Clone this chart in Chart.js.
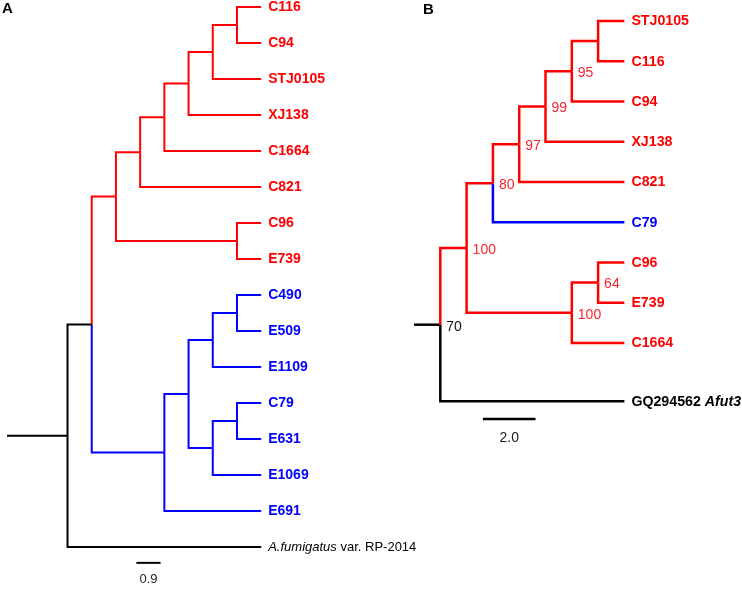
<!DOCTYPE html>
<html><head><meta charset="utf-8">
<script src="https://cdn.jsdelivr.net/npm/chart.js@4.4.1/dist/chart.umd.min.js"></script>
<style>
html,body{margin:0;padding:0;background:#fff;}
#wrap{position:relative;width:742px;height:590px;overflow:hidden;}
canvas{position:absolute;top:0;}
#cA{left:0;} #cB{left:370px;}
</style></head>
<body><div id="wrap"><canvas id="cA" width="742" height="590"></canvas><canvas id="cB" width="372" height="590"></canvas></div>
<script>
const RED = '#ff0000', BLUE = '#0000ff', BLACK = '#000000';
const FONT = '"Liberation Sans", Arial, Helvetica, sans-serif';

// ---------- Panel A (cladogram) ----------
const nodeIdA     = ['root','n1','r1','r2','r3','r4','r5','r6','r7','b1','b2','b3','b4','b5','b6'];
const nodeParentA = [null,'root','n1','r1','r2','r3','r4','r5','r1','n1','b1','b2','b3','b2','b5'];
const nodeDepthA  = [2.25,3.15,4.05,4.95,5.85,6.75,7.65,8.55,8.55,5.85,6.75,7.65,8.55,7.65,8.55];
const nodeGroupA  = ['out','out','I','I','I','I','I','I','I','II','II','II','II','II','II'];
const leafNameA   = ['C116','C94','STJ0105','XJ138','C1664','C821','C96','E739','C490','E509','E1109','C79','E631','E1069','E691','_A.fumigatus_ var. RP-2014'];
const leafParentA = ['r6','r6','r5','r4','r3','r2','r7','r7','b4','b4','b3','b6','b6','b5','b1','root'];
const leafDepthA  = [9.45,9.45,9.45,9.45,9.45,9.45,9.45,9.45,9.45,9.45,9.45,9.45,9.45,9.45,9.45,9.45];
const leafRowA    = [0,1,2,3,4,5,6,7,8,9,10,11,12,13,14,15];
const leafGroupA  = ['I','I','I','I','I','I','I','I','II','II','II','II','II','II','II','out'];
const scaleBarA   = {start:4.81, length:0.9, row:15.44, labelRow:15.9, label:'0.9'};

// ---------- Panel B (with bootstrap support) ----------
const nodeIdB      = ['n70','n100a','n80','n97','n99','n95','nSC','n100b','n64'];
const nodeParentB  = [null,'n70','n100a','n80','n97','n99','n95','n100a','n100b'];
const nodeDepthB   = [1,2,3,4,5,6,7,6,7];
const nodeGroupB   = ['out','I','I','I','I','I','I','I','I'];
const nodeSupportB = ['70','100','80','97','99','95','','100','64'];
const leafNameB    = ['STJ0105','C116','C94','XJ138','C821','C79','C96','E739','C1664','GQ294562 _Afut3_'];
const leafParentB  = ['nSC','nSC','n95','n99','n97','n80','n64','n64','n100b','n70'];
const leafDepthB   = [8,8,8,8,8,8,8,8,8,8];
const leafRowB     = [0,1,2,3,4,5,6,7,8,9.45];
const leafGroupB   = ['I','I','I','I','I','II','I','I','I','out'];
const scaleBarB    = {start:2.62, length:2.0, row:9.89, labelRow:10.36, label:'2.0'};

const GROUP_COLOR = {I:RED, II:BLUE, out:BLACK};

function layoutTree(t){
  const nodes = {};
  t.nodeId.forEach((id,i)=>{ nodes[id] = {id, parent:t.nodeParent[i], x:t.nodeDepth[i], color:GROUP_COLOR[t.nodeGroup[i]], kids:[], support: t.support ? t.support[i] : ''}; });
  const leaves = t.leafName.map((n,i)=>({name:n, parent:t.leafParent[i], x:t.leafDepth[i], y:t.leafRow[i], group:t.leafGroup[i], color:GROUP_COLOR[t.leafGroup[i]], kids:[]}));
  leaves.forEach(l=>nodes[l.parent].kids.push(l));
  t.nodeId.forEach(id=>{ const p = nodes[id].parent; if (p) nodes[p].kids.push(nodes[id]); });
  function gy(n){ if (n.y !== undefined) return n.y; const ys = n.kids.map(gy); n.y = (Math.min(...ys)+Math.max(...ys))/2; return n.y; }
  const root = nodes[t.nodeId[0]]; gy(root);
  const datasets = [];
  const branch = (n)=>{ const p = nodes[n.parent]; datasets.push({data:[{x:p.x,y:p.y},{x:p.x,y:n.y},{x:n.x,y:n.y}], borderColor:n.color}); };
  t.nodeId.forEach(id=>{ if (nodes[id].parent) branch(nodes[id]); });
  leaves.forEach(branch);
  datasets.push({data:[{x:0,y:root.y},{x:root.x,y:root.y}], borderColor:root.color});
  const sb = t.scaleBar;
  datasets.push({data:[{x:sb.start,y:sb.row},{x:sb.start+sb.length,y:sb.row}], borderColor:BLACK});
  return {nodes, leaves, datasets};
}

function drawRich(ctx, str, x, y, size, bold, color){
  const parts = str.split('_');
  let cx = x;
  ctx.fillStyle = color; ctx.textBaseline = 'middle'; ctx.textAlign = 'left';
  parts.forEach((p,i)=>{
    if (!p) return;
    ctx.font = (i%2===1 ? 'italic ' : '') + (bold ? 'bold ' : '') + size + 'px ' + FONT;
    ctx.fillText(p, cx, y);
    cx += ctx.measureText(p).width;
  });
}

function makeChart(canvasId, t, cfg){
  const tree = layoutTree(t);
  const labelPlugin = {
    id:'treeLabels',
    afterDatasetsDraw(chart){
      const ctx = chart.ctx, xs = chart.scales.x, ys = chart.scales.y;
      ctx.save();
      tree.leaves.forEach(l=>{
        const st = cfg.labelStyle[l.group];
        drawRich(ctx, l.name, xs.getPixelForValue(l.x)+cfg.labelGap, ys.getPixelForValue(l.y)+0.5, st.size, st.bold, l.color);
      });
      Object.values(tree.nodes).forEach(n=>{
        if (!n.support) return;
        ctx.font = cfg.supSize + 'px ' + FONT;
        ctx.fillStyle = n.color === BLACK ? '#111' : '#f5262b';
        ctx.textBaseline = 'middle'; ctx.textAlign = 'left';
        ctx.fillText(n.support, xs.getPixelForValue(n.x)+6, ys.getPixelForValue(n.y)+2);
      });
      const sb = t.scaleBar;
      ctx.font = cfg.sbSize + 'px ' + FONT; ctx.fillStyle = '#222'; ctx.textAlign = 'center'; ctx.textBaseline = 'middle';
      ctx.fillText(sb.label, xs.getPixelForValue(sb.start + sb.length/2), ys.getPixelForValue(sb.labelRow));
      ctx.font = 'bold 15px ' + FONT; ctx.fillStyle = '#000'; ctx.textAlign = 'left';
      ctx.fillText(cfg.letter, cfg.letterX, cfg.letterY);
      ctx.restore();
    }
  };
  return new Chart(document.getElementById(canvasId), {
    type:'scatter',
    data:{datasets: tree.datasets.map(d=>Object.assign(d, {showLine:true, pointRadius:0, borderWidth:cfg.lw, tension:0, fill:false, borderJoinStyle:'miter', borderCapStyle:'butt'}))},
    options:{
      responsive:false, animation:false, devicePixelRatio:1,
      layout:{padding:0},
      events:[],
      plugins:{legend:{display:false}, tooltip:{enabled:false}},
      scales:{
        x:{type:'linear', display:false, min:cfg.xmin, max:cfg.xmax},
        y:{type:'linear', display:false, reverse:true, min:cfg.ymin, max:cfg.ymax}
      }
    },
    plugins:[labelPlugin]
  });
}

makeChart('cA', {nodeId:nodeIdA, nodeParent:nodeParentA, nodeDepth:nodeDepthA, nodeGroup:nodeGroupA,
  leafName:leafNameA, leafParent:leafParentA, leafDepth:leafDepthA, leafRow:leafRowA, leafGroup:leafGroupA, scaleBar:scaleBarA},
  {xmin:-0.260, xmax:27.324, ymin:-0.1944, ymax:16.194, lw:2, labelGap:7,
   labelStyle:{I:{size:14,bold:true}, II:{size:14,bold:true}, out:{size:13,bold:false}},
   supSize:14, sbSize:13, letter:'A', letterX:2, letterY:9});

makeChart('cB', {nodeId:nodeIdB, nodeParent:nodeParentB, nodeDepth:nodeDepthB, nodeGroup:nodeGroupB, support:nodeSupportB,
  leafName:leafNameB, leafParent:leafParentB, leafDepth:leafDepthB, leafRow:leafRowB, leafGroup:leafGroupB, scaleBar:scaleBarB},
  {xmin:-1.673, xmax:12.471, ymin:-0.5217, ymax:14.137, lw:2.5, labelGap:7,
   labelStyle:{I:{size:14.2,bold:true}, II:{size:14.2,bold:true}, out:{size:14.2,bold:true}},
   supSize:14, sbSize:14, letter:'B', letterX:53, letterY:10});
</script>
</body></html>
